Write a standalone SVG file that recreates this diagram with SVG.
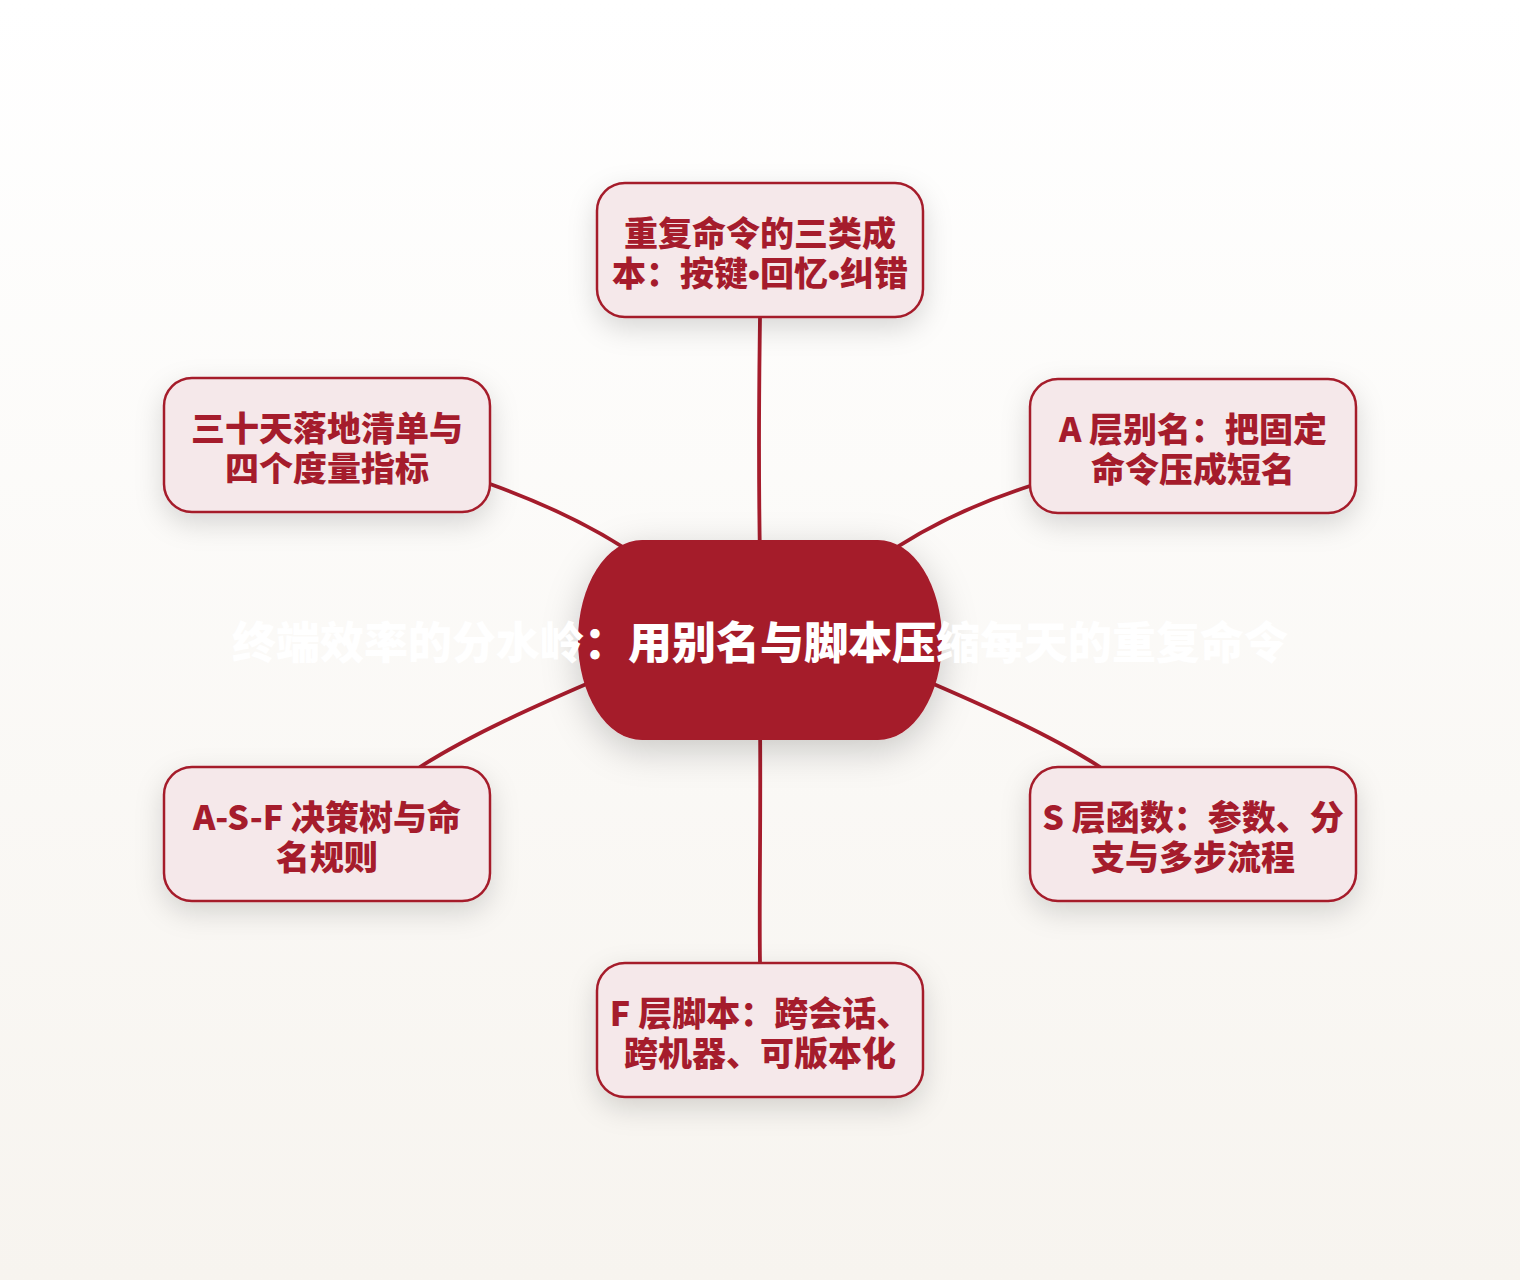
<svg xmlns="http://www.w3.org/2000/svg" width="1520" height="1280" viewBox="0 0 1520 1280">
<defs>
<linearGradient id="bg" x1="0" y1="0" x2="0" y2="1">
<stop offset="0" stop-color="#FFFFFF"/>
<stop offset="1" stop-color="#F7F4EF"/>
</linearGradient>
<filter id="sh" x="-30%" y="-30%" width="160%" height="170%">
<feDropShadow dx="0" dy="10" stdDeviation="14" flood-color="#000000" flood-opacity="0.15"/>
</filter>
<filter id="shc" x="-30%" y="-30%" width="160%" height="170%">
<feDropShadow dx="0" dy="10" stdDeviation="18" flood-color="#000000" flood-opacity="0.2"/>
</filter>
<style>
.node rect{fill:#F5E8EA;stroke:#A51C2C;stroke-width:2.5}
.node text{font-family:"Noto Sans CJK SC","Noto Sans",sans-serif;font-weight:900;font-size:34px;fill:#A51C2C;text-anchor:middle}
.dot{font-family:"Liberation Sans","Noto Sans",sans-serif;font-weight:700}
.edge{fill:none;stroke:#A51C2C;stroke-width:3.8;stroke-linecap:round}
.title{font-family:"Noto Sans CJK SC","Noto Sans",sans-serif;font-weight:900;font-size:44px;fill:#FFFFFF;text-anchor:middle}
</style>
</defs>
<rect x="0" y="0" width="1520" height="1280" fill="url(#bg)"/>
<g id="connectors">
<path class="edge" d="M760,317 C759,400 758,450 760,560"/>
<path class="edge" d="M760,720 C761,820 759,900 760,963"/>
<path class="edge" d="M490,484 C540,502 595,526 645,562"/>
<path class="edge" d="M1030,486 C980,502 925,526 875,562"/>
<path class="edge" d="M420,767 C470,735 535,706 605,676"/>
<path class="edge" d="M1100,767 C1050,735 985,706 915,676"/>
</g>
<g id="center">
<rect x="578" y="540" width="364" height="200" rx="64" ry="100" fill="#A51A2A" filter="url(#shc)"/>
<text class="title" x="760" y="659">终端效率的分水岭：用别名与脚本压缩每天的重复命令</text>
</g>
<g id="n-top" class="node">
<rect x="597" y="183" width="326" height="134" rx="28" filter="url(#sh)"/>
<text x="760" y="245.5">重复命令的三类成<tspan x="760" dy="40">本：按键<tspan class="dot">•</tspan>回忆<tspan class="dot">•</tspan>纠错</tspan></text>
</g>
<g id="n-tr" class="node">
<rect x="1030" y="379" width="326" height="134" rx="28" filter="url(#sh)"/>
<text x="1193" y="441.5">A 层别名：把固定<tspan x="1193" dy="40">命令压成短名</tspan></text>
</g>
<g id="n-br" class="node">
<rect x="1030" y="767" width="326" height="134" rx="28" filter="url(#sh)"/>
<text x="1193" y="829.5">S 层函数：参数、分<tspan x="1193" dy="40">支与多步流程</tspan></text>
</g>
<g id="n-bottom" class="node">
<rect x="597" y="963" width="326" height="134" rx="28" filter="url(#sh)"/>
<text x="760" y="1025.5">F 层脚本：跨会话、<tspan x="760" dy="40">跨机器、可版本化</tspan></text>
</g>
<g id="n-bl" class="node">
<rect x="164" y="767" width="326" height="134" rx="28" filter="url(#sh)"/>
<text x="327" y="829.5">A-S-F 决策树与命<tspan x="327" dy="40">名规则</tspan></text>
</g>
<g id="n-tl" class="node">
<rect x="164" y="378" width="326" height="134" rx="28" filter="url(#sh)"/>
<text x="327" y="440.5">三十天落地清单与<tspan x="327" dy="40">四个度量指标</tspan></text>
</g>
</svg>
